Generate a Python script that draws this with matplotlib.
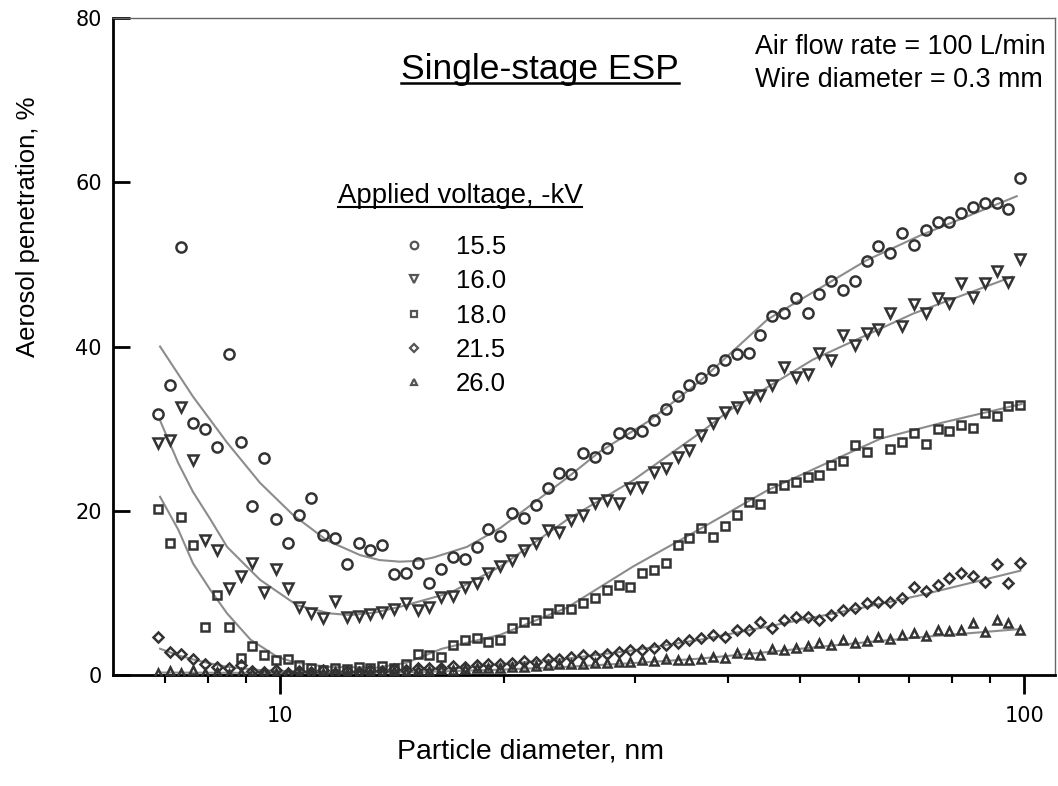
import matplotlib
matplotlib.use("Agg")
import matplotlib.pyplot as plt
from matplotlib.lines import Line2D
from matplotlib.ticker import NullFormatter, FixedLocator, FixedFormatter

diameter = [6.85, 7.11, 7.37, 7.64, 7.93, 8.22, 8.53, 8.85, 9.18, 9.52,
            9.87, 10.24, 10.62, 11.02, 11.43, 11.85, 12.29, 12.75, 13.23, 13.72,
            14.23, 14.76, 15.31, 15.88, 16.47, 17.08, 17.72, 18.38, 19.06, 19.77,
            20.51, 21.27, 22.06, 22.89, 23.74, 24.62, 25.54, 26.49, 27.48, 28.50,
            29.56, 30.66, 31.80, 32.99, 34.22, 35.49, 36.81, 38.18, 39.60, 41.08,
            42.61, 44.19, 45.84, 47.55, 49.32, 51.15, 53.06, 55.03, 57.08, 59.21,
            61.41, 63.70, 66.07, 68.53, 71.08, 73.73, 76.47, 79.32, 82.27, 85.33,
            88.51, 91.81, 95.23, 98.77]

# --- measured penetration (%) for each applied voltage ---
pen_155 = [31.8, 35.3, 52.1, 30.7, 30.0, 27.8, 39.1, 28.4, 20.6, 26.4,
           19.0, 16.1, 19.5, 21.5, 17.0, 16.7, 13.5, 16.1, 15.2, 15.8,
           12.3, 12.4, 13.6, 11.2, 12.9, 14.4, 14.1, 15.6, 17.8, 16.9,
           19.7, 19.1, 20.7, 22.8, 24.6, 24.5, 27.0, 26.5, 27.6, 29.5,
           29.5, 29.7, 31.0, 32.4, 34.0, 35.3, 36.2, 37.2, 38.4, 39.1,
           39.2, 41.4, 43.7, 44.1, 45.9, 44.1, 46.4, 48.0, 46.9, 48.0,
           50.4, 52.2, 51.4, 53.8, 52.4, 54.2, 55.2, 55.2, 56.3, 57.0,
           57.5, 57.5, 56.7, 60.5]
pen_160 = [28.3, 28.6, 32.6, 26.2, 16.4, 15.2, 10.6, 12.1, 13.6, 10.1,
           12.9, 10.6, 8.3, 7.5, 6.9, 9.0, 7.1, 7.2, 7.4, 7.7,
           8.0, 8.8, 7.9, 8.3, 9.5, 9.6, 10.7, 11.2, 12.4, 13.3,
           14.0, 15.2, 16.1, 17.7, 17.4, 18.9, 19.5, 20.9, 21.3, 20.9,
           22.8, 22.9, 24.7, 25.2, 26.5, 27.4, 29.2, 30.7, 32.0, 32.6,
           33.9, 34.1, 35.3, 37.5, 36.3, 36.6, 39.2, 38.4, 41.4, 40.2,
           41.7, 42.1, 44.1, 42.5, 45.2, 44.1, 45.9, 45.3, 47.7, 46.0,
           47.7, 49.2, 47.9, 50.7]
pen_180 = [20.2, 16.1, 19.2, 15.8, 5.8, 9.7, 5.8, 2.1, 3.5, 2.4,
           1.8, 1.9, 1.2, 0.8, 0.6, 0.9, 0.7, 1.0, 0.8, 1.1,
           0.9, 1.3, 2.6, 2.4, 2.2, 3.7, 4.3, 4.5, 4.0, 4.3,
           5.7, 6.5, 6.7, 7.5, 8.0, 8.0, 8.8, 9.4, 10.4, 11.0,
           10.7, 12.4, 12.8, 13.6, 15.8, 16.7, 17.9, 16.8, 18.1, 19.5,
           21.1, 20.8, 22.8, 23.1, 23.5, 24.1, 24.3, 25.6, 26.0, 28.0,
           27.2, 29.5, 27.5, 28.4, 29.5, 28.1, 29.9, 29.7, 30.4, 30.1,
           31.9, 31.5, 32.8, 32.9]
pen_215 = [4.6, 2.8, 2.6, 1.9, 1.4, 1.0, 0.8, 1.2, 0.5, 0.4,
           0.6, 0.3, 0.5, 0.4, 0.6, 0.3, 0.5, 0.4, 0.6, 0.5,
           0.7, 0.6, 0.8, 0.9, 0.8, 1.1, 1.0, 1.2, 1.4, 1.3,
           1.5, 1.7, 1.6, 1.9, 2.0, 2.2, 2.4, 2.3, 2.6, 2.8,
           3.0, 3.1, 3.3, 3.6, 3.9, 4.3, 4.5, 4.9, 4.6, 5.5,
           5.5, 6.5, 5.7, 6.7, 7.1, 7.1, 6.7, 7.3, 7.9, 8.2,
           8.8, 8.9, 8.9, 9.4, 10.7, 10.2, 11.0, 11.8, 12.4, 12.1,
           11.3, 13.5, 11.2, 13.6]
pen_260 = [0.2, 0.5, 0.3, 0.6, 0.2, 0.4, 0.1, 0.3, 0.2, 0.4,
           0.2, 0.3, 0.1, 0.3, 0.2, 0.4, 0.3, 0.2, 0.4, 0.3,
           0.5, 0.4, 0.6, 0.5, 0.7, 0.6, 0.7, 0.8, 0.9, 0.8,
           1.0, 1.0, 1.1, 1.2, 1.3, 1.3, 1.4, 1.5, 1.5, 1.6,
           1.6, 1.8, 1.7, 1.9, 1.8, 1.8, 1.9, 2.2, 2.1, 2.7,
           2.5, 2.4, 3.2, 3.0, 3.3, 3.5, 3.9, 3.7, 4.3, 3.9,
           4.2, 4.6, 4.4, 4.9, 5.1, 4.8, 5.5, 5.3, 5.5, 6.3,
           5.2, 6.7, 6.3, 5.5]

# --- fitted curves (grey lines) ---
fit_155_d = [6.9, 7.64, 8.49, 9.40, 10.41, 11.56, 12.81, 13.6, 14.49, 15.3,
             16.06, 17.83, 19.77, 24.3, 26.9, 31.4, 36.7, 45.2, 61.4, 72.4, 97.7]
fit_155_v = [40.0, 33.9, 28.3, 23.4, 19.5, 16.4, 14.6, 14.0, 13.8, 13.9,
             14.3, 15.6, 17.9, 24.0, 27.2, 31.0, 35.8, 43.3, 50.5, 53.5, 58.3]
fit_160_d = [6.9, 7.30, 7.64, 8.07, 8.49, 9.40, 10.54, 11.67, 12.42, 13.4,
             14.49, 16.92, 19.77, 24.3, 29.8, 36.7, 40.3, 52.0, 70.9, 96.4]
fit_160_v = [31.0, 25.8, 22.3, 18.9, 15.6, 11.6, 8.5, 7.5, 7.3, 7.6,
             8.3, 10.0, 13.2, 18.9, 23.7, 29.5, 32.3, 38.4, 44.0, 48.5]
fit_180_d = [6.9, 7.30, 7.64, 8.07, 8.49, 9.13, 9.92, 10.5, 11.6, 13.5,
             14.8, 16.5, 19.77, 24.3, 29.8, 36.7, 45.2, 55.5, 64.2, 78.2, 99.2]
fit_180_v = [21.7, 17.7, 13.6, 10.3, 7.5, 4.3, 2.2, 1.5, 1.0, 0.9,
             1.5, 3.2, 4.9, 8.2, 13.2, 17.8, 22.5, 26.2, 28.8, 30.8, 33.0]
fit_215_d = [6.9, 7.3, 7.64, 8.07, 8.49, 9.4, 10.4, 12.8, 14.5, 17.8,
             19.77, 24.3, 29.8, 36.7, 45.2, 61.4, 72.4, 98.8]
fit_215_v = [3.2, 2.4, 1.9, 1.4, 1.0, 0.6, 0.45, 0.4, 0.5, 0.9,
             1.3, 2.0, 3.0, 4.3, 5.9, 8.3, 9.7, 12.7]
fit_260_d = [6.9, 10.0, 14.5, 19.77, 24.3, 29.8, 36.7, 45.2, 61.4, 72.4, 98.8]
fit_260_v = [0.3, 0.25, 0.3, 0.65, 1.0, 1.45, 2.0, 2.8, 4.0, 4.6, 5.6]

voltages = ["15.5", "16.0", "18.0", "21.5", "26.0"]
markers = ["o", "v", "s", "D", "^"]
sizes = [7.3, 6.8, 6.3, 5.5, 6.3]
series = [pen_155, pen_160, pen_180, pen_215, pen_260]
fits = [(fit_155_d, fit_155_v), (fit_160_d, fit_160_v), (fit_180_d, fit_180_v),
        (fit_215_d, fit_215_v), (fit_260_d, fit_260_v)]

sans = ["Liberation Sans", "DejaVu Sans"]
mark_col = "#333333"
line_col = "#8c8c8c"

fig = plt.figure(figsize=(10.58, 7.86), dpi=100)
ax = fig.add_axes([0.1068, 0.1412, 0.8904, 0.8359])
ax.set_xscale("log")

for (fd, fv) in fits:
    ax.plot(fd, fv, color=line_col, lw=1.5, zorder=2)
for vals, m, ms in zip(series, markers, sizes):
    ax.plot(diameter, vals, ls="none", marker=m, ms=ms, mfc="none",
            mec=mark_col, mew=1.8, zorder=3)

ax.set_xlim(5.965, 110)
ax.set_ylim(0, 80)

# spines
for s in ["left", "bottom"]:
    ax.spines[s].set_linewidth(2.0)
    ax.spines[s].set_color("black")
for s in ["top", "right"]:
    ax.spines[s].set_linewidth(1.0)
    ax.spines[s].set_color("#666666")

# ticks
ax.xaxis.set_major_locator(FixedLocator([10, 100]))
ax.xaxis.set_major_formatter(FixedFormatter(["10", "100"]))
ax.xaxis.set_minor_locator(FixedLocator([7, 8, 9, 20, 30, 40, 50, 60, 70, 80, 90]))
ax.xaxis.set_minor_formatter(NullFormatter())
ax.tick_params(axis="x", which="major", direction="out", length=14, width=2,
               pad=8, labelsize=15)
ax.tick_params(axis="x", which="minor", direction="out", length=6, width=1.5)
ax.set_yticks([0, 20, 40, 60, 80])
ax.tick_params(axis="y", direction="in", length=12, width=2, pad=8, labelsize=15)

# axis labels
ax.set_xlabel("Particle diameter, nm", fontsize=20.4, family=sans, va="center")
ax.xaxis.set_label_coords(0.4427, -0.117)
ax.set_ylabel("Aerosol penetration, %", fontsize=18.5, family=sans, va="center")
ax.yaxis.set_label_coords(-0.09, 0.682)

# annotations
title = ax.text(0.4533, 0.921, "Single-stage ESP", transform=ax.transAxes,
                ha="center", va="center", fontsize=25.5, family=sans)
ax.text(0.6815, 0.956, "Air flow rate = 100 L/min", transform=ax.transAxes,
        ha="left", va="center", fontsize=19.4, family=sans)
ax.text(0.6815, 0.906, "Wire diameter = 0.3 mm", transform=ax.transAxes,
        ha="left", va="center", fontsize=19.4, family=sans)
leg_title = ax.text(0.3684, 0.729, "Applied voltage, -kV", transform=ax.transAxes,
                    ha="center", va="center", fontsize=19.8, family=sans)

handles = [Line2D([], [], ls="none", marker=m, ms=ms * 0.75, mfc="none",
                  mec="#555555", mew=1.6) for m, ms in zip(markers, sizes)]
ax.legend(handles, voltages, loc="upper left", bbox_to_anchor=(0.3057, 0.6694),
          frameon=False, prop={"family": sans, "size": 18.5}, handlelength=1.0,
          handletextpad=1.13, labelspacing=0.4, borderpad=0, borderaxespad=0)

# underline title texts
fig.canvas.draw()
inv = fig.transFigure.inverted()
for txt, off, lw in [(title, 3.0, 1.8), (leg_title, 2.5, 1.5)]:
    bb = txt.get_window_extent()
    y = bb.y0 + off
    (x0, y0), (x1, _) = inv.transform([(bb.x0, y), (bb.x1, y)])
    fig.add_artist(Line2D([x0, x1], [y0, y0], color="black", lw=lw,
                          transform=fig.transFigure))

fig.savefig("out.png", dpi=100)
